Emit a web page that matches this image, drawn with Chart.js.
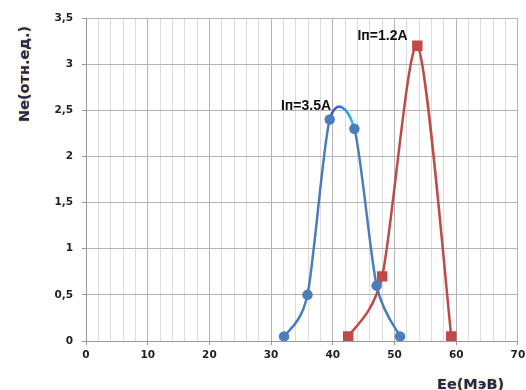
<!DOCTYPE html>
<html>
<head>
<meta charset="utf-8">
<script src="https://cdn.jsdelivr.net/npm/chart.js@4/dist/chart.umd.min.js"></script>
<style>
html,body{margin:0;padding:0;background:#fff;}
#wrap{width:526px;height:390px;position:relative;}
</style>
</head>
<body>
<div id="wrap"><canvas id="c" width="526" height="390"></canvas></div>
<script>
// ---- data ----
const blueX = [32.1, 35.9, 39.5, 43.5, 47.1, 50.9];
const blueY = [0.05, 0.5, 2.4, 2.3, 0.6, 0.05];
const redX  = [42.5, 48.0, 53.7, 59.2];
const redY  = [0.05, 0.7, 3.2, 0.05];
const xTicksMajor = [0, 10, 20, 30, 40, 50, 60, 70];
const yTicks = [0, 0.5, 1, 1.5, 2, 2.5, 3, 3.5];
const seriesLabels = ['Iп=3.5A', 'Iп=1.2A'];
const labelAnchors = [[31.6, 2.5], [44.0, 3.26]];
const xTitle = 'Ee(МэВ)';
const yTitle = 'Ne(отн.ед.)';

const toPts = (xs, ys) => xs.map((x, i) => ({x: x, y: ys[i]}));

const BLUE = '#4a7ebb';
const RED = '#be4b48';
const SMOOTH_K = 0.135; // Excel-like smoothing factor

// Excel-style smoothed line: control points from the library's own point positions
const excelSmooth = {
  id: 'excelSmooth',
  beforeDatasetsDraw(chart) {
    chart.data.datasets.forEach((ds, di) => {
      const pts = chart.getDatasetMeta(di).data;
      for (let i = 0; i < pts.length; i++) {
        const p = pts[i];
        const prev = pts[i - 1] || p;
        const next = pts[i + 1] || p;
        const dx = (next.x - prev.x) * SMOOTH_K;
        const dy = (next.y - prev.y) * SMOOTH_K;
        p.cp1x = p.x - dx; p.cp1y = p.y - dy;
        p.cp2x = p.x + dx; p.cp2y = p.y + dy;
      }
    });
  }
};

const annot = {
  id: 'annot',
  afterDraw(chart) {
    const c = chart.ctx, xs = chart.scales.x, ys = chart.scales.y;
    c.save();
    c.fillStyle = '#111';
    c.font = 'bold 14px "Liberation Sans", Arial, sans-serif';
    c.textAlign = 'left';
    c.textBaseline = 'alphabetic';
    seriesLabels.forEach((t, i) => {
      c.fillText(t, xs.getPixelForValue(labelAnchors[i][0]), ys.getPixelForValue(labelAnchors[i][1]));
    });
    // axis titles
    c.font = 'bold 14.5px "DejaVu Sans", sans-serif';
    c.fillStyle = '#1c2a50';
    c.shadowColor = 'rgba(240,150,40,0.8)';
    c.shadowBlur = 2;
    c.fillText(xTitle, 437, 389);
    c.translate(29, 122);
    c.rotate(-Math.PI / 2);
    c.fillText(yTitle, 0, 0);
    c.restore();
  }
};

new Chart(document.getElementById('c'), {
  type: 'scatter',
  data: {
    datasets: [
      {
        label: seriesLabels[0],
        data: toPts(blueX, blueY),
        showLine: true,
        borderColor: BLUE,
        backgroundColor: BLUE,
        borderWidth: 2.5,
        pointRadius: 4,
        pointHoverRadius: 4,
        pointStyle: 'circle',
        tension: 0.4,
        segment: {
          borderColor: (ctx) => {
            if (ctx.p0DataIndex !== 2) return undefined;
            const g = ctx.chart.ctx.createLinearGradient(ctx.p0.x, 0, ctx.p1.x, 0);
            g.addColorStop(0, '#3b3fd0');
            g.addColorStop(1, '#28c0f0');
            return g;
          }
        }
      },
      {
        label: seriesLabels[1],
        data: toPts(redX, redY),
        showLine: true,
        borderColor: RED,
        backgroundColor: RED,
        borderWidth: 2.5,
        pointRadius: 5.6,
        pointHoverRadius: 5.6,
        pointStyle: 'rect',
        tension: 0.4
      }
    ]
  },
  options: {
    responsive: false,
    animation: false,
    devicePixelRatio: 1,
    layout: {padding: {left: 0, right: 7, top: 18, bottom: 0}},
    plugins: {legend: {display: false}, tooltip: {enabled: false}},
    scales: {
      x: {
        type: 'linear',
        min: 0, max: 70,
        afterFit: (s) => { s.height = 49; s.paddingLeft = 0; s.paddingRight = 0; },
        afterBuildTicks: (s) => { const t = []; for (let v = 0; v <= 70; v += 2) t.push({value: v}); s.ticks = t; },
        ticks: {
          autoSkip: false,
          maxRotation: 0,
          padding: 4,
          color: '#222',
          font: {family: '"DejaVu Sans", sans-serif', size: 10.5, weight: 'bold'},
          callback: (v) => xTicksMajor.includes(v) ? String(v) : ''
        },
        grid: {
          color: (ctx) => (ctx.tick && ctx.tick.value % 10 === 0) ? '#b4b4b4' : '#dcdcdc',
          lineWidth: 1,
          tickLength: 4,
          tickColor: (ctx) => (ctx.tick && ctx.tick.value % 10 === 0) ? '#999' : 'rgba(0,0,0,0)'
        },
        border: {color: '#999', width: 1}
      },
      y: {
        type: 'linear',
        min: 0, max: 3.5,
        afterFit: (s) => { s.width = 86; },
        afterBuildTicks: (s) => { s.ticks = yTicks.map(v => ({value: v})); },
        ticks: {
          padding: 9,
          color: '#222',
          font: {family: '"DejaVu Sans", sans-serif', size: 10.5, weight: 'bold'},
          callback: (v) => String(v).replace('.', ',')
        },
        grid: {color: '#b4b4b4', lineWidth: 1, tickLength: 4, tickColor: '#999'},
        border: {color: '#999', width: 1}
      }
    }
  },
  plugins: [excelSmooth, annot]
});
</script>
</body>
</html>
